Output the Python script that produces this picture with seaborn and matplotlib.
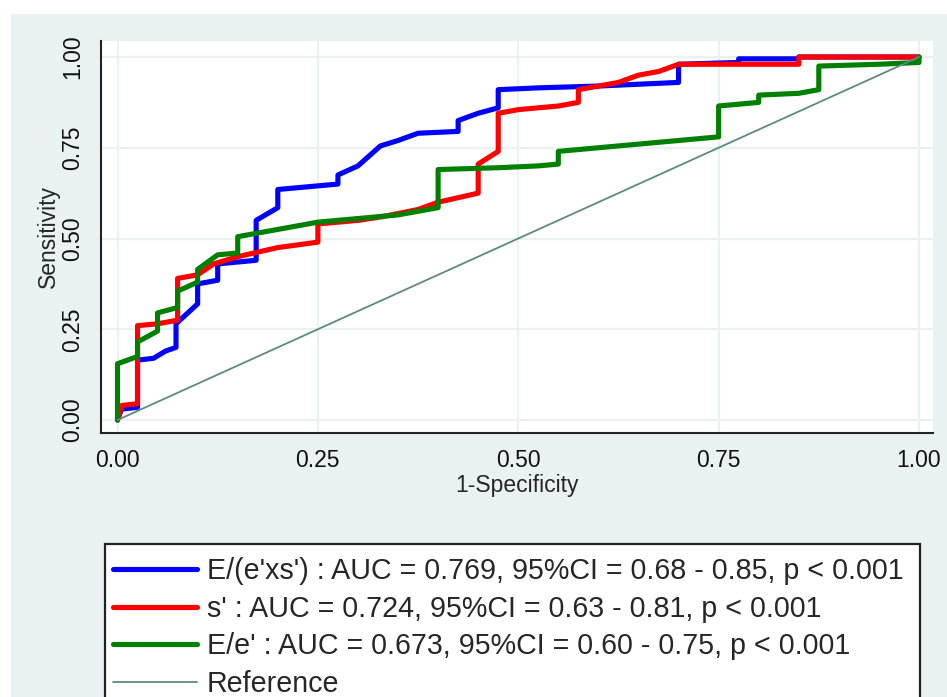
import matplotlib
matplotlib.use("Agg")
import matplotlib.pyplot as plt
from matplotlib.patches import Rectangle
import seaborn as sns

# ROC curve vertices (1-specificity, sensitivity)
fpr_ratio = [0, 0.005, 0.025, 0.025, 0.045, 0.06, 0.073, 0.073, 0.1, 0.1, 0.125, 0.125,
             0.173, 0.173, 0.2, 0.2, 0.225, 0.25, 0.275, 0.275, 0.3, 0.328, 0.35, 0.375,
             0.425, 0.425, 0.45, 0.475, 0.475, 0.525, 0.6, 0.7, 0.7, 0.775, 0.775, 0.85,
             0.85, 1.0]
tpr_ratio = [0, 0.03, 0.035, 0.165, 0.17, 0.19, 0.2, 0.265, 0.32, 0.375, 0.385, 0.43,
             0.44, 0.55, 0.585, 0.635, 0.64, 0.645, 0.65, 0.675, 0.7, 0.755, 0.77, 0.79,
             0.795, 0.825, 0.845, 0.86, 0.91, 0.915, 0.92, 0.93, 0.98, 0.985, 0.995, 0.995,
             1.0, 1.0]

fpr_s = [0, 0.005, 0.025, 0.025, 0.05, 0.075, 0.075, 0.1, 0.12, 0.15, 0.2, 0.25, 0.25,
         0.3, 0.33, 0.375, 0.4, 0.45, 0.45, 0.475, 0.475, 0.5, 0.55, 0.575, 0.575, 0.625,
         0.65, 0.675, 0.7, 0.85, 0.85, 1.0]
tpr_s = [0, 0.04, 0.045, 0.26, 0.265, 0.275, 0.39, 0.4, 0.43, 0.45, 0.475, 0.49, 0.54,
         0.55, 0.56, 0.58, 0.6, 0.625, 0.705, 0.74, 0.845, 0.855, 0.865, 0.875, 0.91, 0.93,
         0.95, 0.96, 0.98, 0.98, 1.0, 1.0]

fpr_ee = [0, 0, 0.025, 0.025, 0.05, 0.05, 0.075, 0.075, 0.1, 0.1, 0.125, 0.15, 0.15,
          0.175, 0.2, 0.25, 0.3, 0.35, 0.4, 0.4, 0.475, 0.525, 0.55, 0.55, 0.6, 0.65,
          0.7, 0.75, 0.75, 0.8, 0.8, 0.85, 0.875, 0.875, 0.95, 1.0, 1.0]
tpr_ee = [0, 0.155, 0.175, 0.215, 0.245, 0.295, 0.31, 0.355, 0.38, 0.415, 0.455, 0.46,
          0.505, 0.515, 0.525, 0.545, 0.555, 0.565, 0.585, 0.69, 0.695, 0.7, 0.705, 0.74,
          0.75, 0.76, 0.77, 0.78, 0.865, 0.875, 0.895, 0.9, 0.91, 0.975, 0.98, 0.985, 1.0]

ref_x = [0, 1]
ref_y = [0, 1]

labels = ["E/(e'xs') : AUC = 0.769, 95%CI = 0.68 - 0.85, p < 0.001",
          "s' : AUC = 0.724, 95%CI = 0.63 - 0.81, p < 0.001",
          "E/e' : AUC = 0.673, 95%CI = 0.60 - 0.75, p < 0.001",
          "Reference"]
ticks = [0, 0.25, 0.5, 0.75, 1.0]
tick_labels = ["0.00", "0.25", "0.50", "0.75", "1.00"]

BG = '#eaf1f3'

sns.set_theme(style="white")
plt.rcParams['font.family'] = ['Liberation Sans', 'DejaVu Sans']

W, H = 947, 697
fig = plt.figure(figsize=(W / 100, H / 100), dpi=100, facecolor='white')
fig.patches.append(Rectangle((11 / W, 0), 1, (H - 14) / H, transform=fig.transFigure,
                             facecolor=BG, edgecolor='none', zorder=-3))
# legend frame runs off the bottom of the picture
fig.patches.append(Rectangle((105 / W, -0.05), (920 - 105) / W, (H - 544) / H + 0.05,
                             transform=fig.transFigure, facecolor='white',
                             edgecolor='#222222', lw=1.6, zorder=-2))

ax = fig.add_axes([101 / W, (H - 433) / H, (933 - 101) / W, (433 - 41) / H])
ax.set_facecolor('white')

sns.lineplot(x=fpr_ratio, y=tpr_ratio, sort=False, estimator=None, color='#0000ff',
             lw=3.7, label=labels[0], ax=ax)
sns.lineplot(x=fpr_s, y=tpr_s, sort=False, estimator=None, color='#ff0000',
             lw=3.7, label=labels[1], ax=ax)
sns.lineplot(x=fpr_ee, y=tpr_ee, sort=False, estimator=None, color='#008000',
             lw=3.7, label=labels[2], ax=ax)
sns.lineplot(x=ref_x, y=ref_y, sort=False, estimator=None, color='#5b8a85',
             lw=1.3, label=labels[3], ax=ax)

ax.set_xlim(-16.5 / 801.5, 1 + 14 / 801.5)
ax.set_ylim(-13 / 363, 1 + 16 / 363)
ax.set_xticks(ticks)
ax.set_xticklabels(tick_labels)
ax.set_yticks(ticks)
ax.set_yticklabels(tick_labels, rotation=90, va='center')
ax.tick_params(axis='both', direction='out', length=5.8, width=1.2, color='#222222',
               labelsize=16.5, labelcolor='#111111')
ax.tick_params(axis='x', pad=6)
ax.tick_params(axis='y', pad=6)
ax.grid(True, color=BG, lw=1.6)
ax.set_axisbelow(True)
for s in ['top', 'right']:
    ax.spines[s].set_visible(False)
for s in ['left', 'bottom']:
    ax.spines[s].set_color('#222222')
    ax.spines[s].set_linewidth(1.5)

ax.set_xlabel('1-Specificity', fontsize=16.5, labelpad=1)
ax.set_ylabel('Sensitivity', fontsize=16.5, labelpad=1)

handles, _ = ax.get_legend_handles_labels()
ax.legend(handles, labels, loc='upper left', bbox_to_anchor=(113 / W, (H - 557) / H),
          bbox_transform=fig.transFigure, frameon=False, fontsize=20.6, handlelength=2.95,
          handletextpad=0.33, labelspacing=0.34, borderaxespad=0, borderpad=0)

fig.savefig('out.png', dpi=100, facecolor='white')
